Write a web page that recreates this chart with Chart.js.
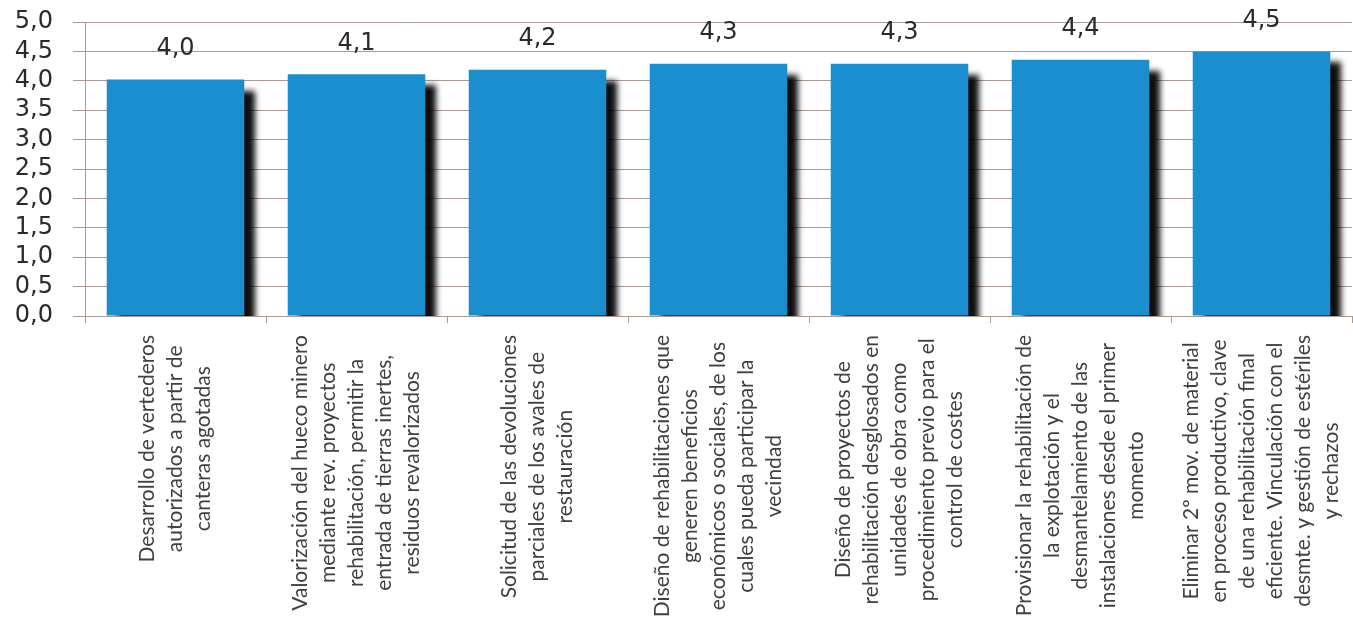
<!DOCTYPE html>
<html>
<head>
<meta charset="utf-8">
<script src="https://cdn.jsdelivr.net/npm/chart.js@4"></script>
<style>
html, body { margin: 0; padding: 0; background: #fff; }
</style>
</head>
<body>
<canvas id="grafico" width="1353" height="626"></canvas>
<script>
const categorias = [
    ['Desarrollo de vertederos', 'autorizados a partir de', 'canteras agotadas'],
    ['Valorización del hueco minero', 'mediante rev. proyectos', 'rehabilitación, permitir la', 'entrada de tierras inertes,', 'residuos revalorizados'],
    ['Solicitud de las devoluciones', 'parciales de los avales de', 'restauración'],
    ['Diseño de rehabilitaciones que', 'generen beneficios', 'económicos o sociales, de los', 'cuales pueda participar la', 'vecindad'],
    ['Diseño de proyectos de', 'rehabilitación desglosados en', 'unidades de obra como', 'procedimiento previo para el', 'control de costes'],
    ['Provisionar la rehabilitación de', 'la explotación y el', 'desmantelamiento de las', 'instalaciones desde el primer', 'momento'],
    ['Eliminar 2º mov. de material', 'en proceso productivo, clave', 'de una rehabilitación final', 'eficiente. Vinculación con el', 'desmte. y gestión de estériles', 'y rechazos']
];
const valores = [4.02, 4.11, 4.19, 4.29, 4.29, 4.36, 4.5];
const etiquetasY = ['0,0', '0,5', '1,0', '1,5', '2,0', '2,5', '3,0', '3,5', '4,0', '4,5', '5,0'];

const colorRejilla = '#a89a90';

const sombra = {
    id: 'sombra',
    beforeDatasetsDraw(chart) {
        const c = chart.ctx;
        c.save();
        c.shadowColor = 'rgba(0,0,0,0.95)';
        c.shadowBlur = 6;
        c.shadowOffsetX = 11;
        c.shadowOffsetY = 11;
    },
    afterDatasetsDraw(chart) {
        chart.ctx.restore();
    }
};

const rotulos = {
    id: 'rotulos',
    afterDraw(chart) {
        const c = chart.ctx;
        // valores encima de las barras
        const meta = chart.getDatasetMeta(0);
        c.save();
        c.font = '24px "DejaVu Sans"';
        c.fillStyle = '#2a2a2a';
        c.textAlign = 'center';
        c.textBaseline = 'middle';
        meta.data.forEach((barra, i) => {
            c.fillText(valores[i].toFixed(1).replace('.', ','), barra.x, barra.y - 31);
        });
        c.restore();

        // etiquetas del eje x, giradas y centradas
        const ejeX = chart.scales.x;
        c.save();
        c.font = '21px Lato';
        c.fillStyle = '#404040';
        c.textAlign = 'center';
        c.textBaseline = 'middle';
        categorias.forEach((lineas, i) => {
            const cx = ejeX.getPixelForValue(i);
            const ancho = Math.max(...lineas.map(l => c.measureText(l).width));
            const cy = chart.chartArea.bottom + 19 + ancho / 2;
            c.save();
            c.translate(cx, cy);
            c.rotate(-Math.PI / 2);
            lineas.forEach((l, j) => c.fillText(l, 0, (j - (lineas.length - 1) / 2) * 28));
            c.restore();
        });
        c.restore();
    }
};

const ctx = document.getElementById('grafico').getContext('2d');
const grafico = new Chart(ctx, {
    type: 'bar',
    data: {
        labels: categorias.map(l => l.join(' ')),
        datasets: [{
            data: valores,
            backgroundColor: '#1b8ecf',
            borderWidth: 0,
            barPercentage: 0.76,
            categoryPercentage: 1,
            clip: 0
        }]
    },
    options: {
        responsive: false,
        animation: false,
        layout: { padding: { top: 22, right: 1, left: 0, bottom: 0 } },
        plugins: {
            legend: { display: false },
            tooltip: { enabled: false }
        },
        scales: {
            x: {
                afterFit: s => { s.height = 310; },
                ticks: { display: false },
                grid: { drawOnChartArea: false, color: colorRejilla, tickLength: 7 },
                border: { color: colorRejilla }
            },
            y: {
                min: 0,
                max: 5,
                afterFit: s => { s.width = 85; s.paddingTop = 0; s.paddingBottom = 0; },
                ticks: {
                    stepSize: 0.5,
                    autoSkip: false,
                    padding: 20,
                    color: '#2a2a2a',
                    font: { family: 'DejaVu Sans', size: 24 },
                    callback: (v, i) => etiquetasY[i]
                },
                grid: { color: colorRejilla, tickLength: 12 },
                border: { color: colorRejilla }
            }
        }
    },
    plugins: [sombra, rotulos]
});
</script>
</body>
</html>
